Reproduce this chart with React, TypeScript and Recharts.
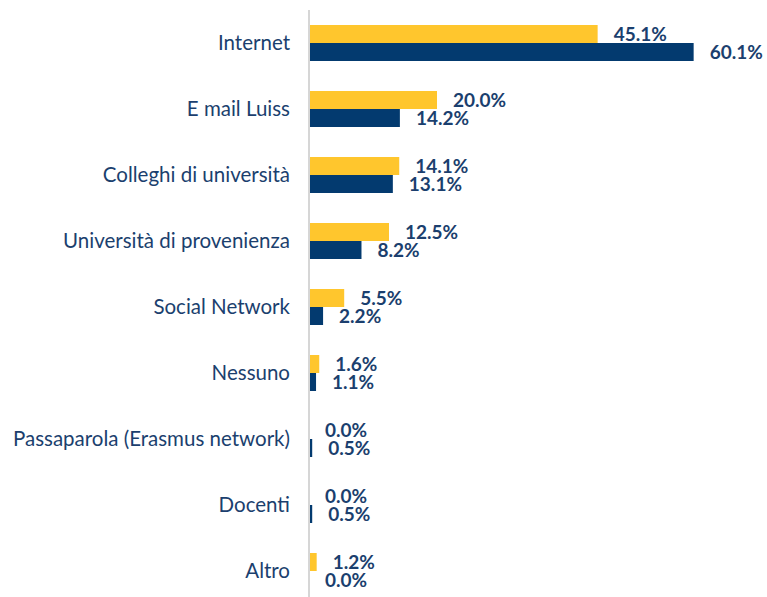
import { Bar, BarChart, LabelList, XAxis, YAxis } from 'recharts'

const categories = [
  'Internet',
  'E mail Luiss',
  'Colleghi di università',
  'Università di provenienza',
  'Social Network',
  'Nessuno',
  'Passaparola (Erasmus network)',
  'Docenti',
  'Altro'
]

const seriesA = [45.1, 20.0, 14.1, 12.5, 5.5, 1.6, 0.0, 0.0, 1.2]
const seriesB = [60.1, 14.2, 13.1, 8.2, 2.2, 1.1, 0.5, 0.5, 0.0]

const YELLOW = '#FFC62D'
const NAVY = '#033A6F'
const TEXT = '#1B3F6E'
const FONT = 'Lato, "Open Sans", sans-serif'

const data = categories.map((name, i) => ({ name, a: seriesA[i], b: seriesB[i] }))

// zero bars get minPointSize so their label still renders; the shape hides them
function makeShape(key: 'a' | 'b', fill: string) {
  return (props: any) => {
    const { x, y, width, height, payload } = props
    if (!payload || !(payload[key] > 0)) return <g />
    return <rect x={x} y={y} width={width} height={height} fill={fill} />
  }
}

function makeLabel(key: 'a' | 'b') {
  return (props: any) => {
    const { x, y, width, height, index } = props
    const v = data[index]?.[key] ?? 0
    const w = v > 0 ? Number(width) || 0 : 0
    const left = Number(x) + w + 16
    const mid = Number(y) + Number(height) / 2
    return (
      <text x={left} y={mid} dy="0.36em" fill={TEXT} fontSize={19} fontWeight={700} fontFamily={FONT}>
        {`${v.toFixed(1)}%`}
      </text>
    )
  }
}

export default function App() {
  return (
    <div style={{ position: 'absolute', left: 0, top: 0, width: 767, height: 597, overflow: 'hidden', background: '#fff' }}>
      <BarChart
        width={767}
        height={604}
        data={data}
        layout="vertical"
        margin={{ top: 10, right: 10, bottom: 0, left: 0 }}
        barGap={0}
        barSize={18}
      >
        <XAxis type="number" domain={[0, 70]} hide />
        <YAxis
          type="category"
          dataKey="name"
          width={309}
          axisLine={{ stroke: '#D6D6D6', strokeWidth: 2 }}
          tickLine={false}
          tickMargin={13}
          tick={{ fill: TEXT, fontSize: 20.5, fontFamily: FONT }}
          interval={0}
        />
        <Bar dataKey="a" fill={YELLOW} minPointSize={1} shape={makeShape('a', YELLOW)} isAnimationActive={false}>
          <LabelList dataKey="a" content={makeLabel('a')} />
        </Bar>
        <Bar dataKey="b" fill={NAVY} minPointSize={1} shape={makeShape('b', NAVY)} isAnimationActive={false}>
          <LabelList dataKey="b" content={makeLabel('b')} />
        </Bar>
      </BarChart>
    </div>
  )
}
